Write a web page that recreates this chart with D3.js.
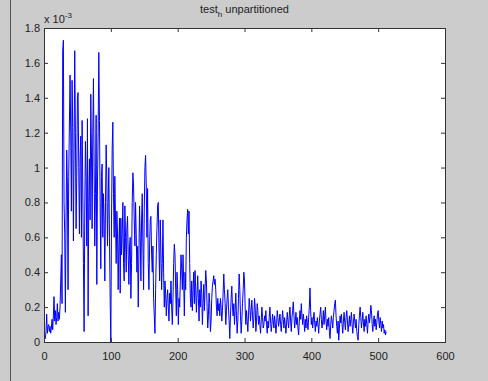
<!DOCTYPE html>
<html>
<head>
<meta charset="utf-8">
<script src="https://cdn.jsdelivr.net/npm/d3@7"></script>
<style>
  html, body { margin: 0; padding: 0; background: #cccccc; }
  svg { display: block; }
  .axisCustom text { font-family: "Liberation Sans", Arial, sans-serif; font-size: 11px; fill: #222; }
  .axisCustom line { stroke: #333; }
  .axisCustom path { display: none; }
</style>
</head>
<body>
<div id="chart"></div>
<script>
// data: h values in units of 1e-3, one per sample (sample 1..512)
var hValues = [
  0.03,0.02,0.06,0.16,0.05,0.09,0.10,0.06,0.09,0.05,0.08,0.13,0.07,0.15,0.26,0.12,
  0.18,0.10,0.14,0.22,0.12,0.17,0.13,0.20,0.35,0.50,0.22,1.67,1.73,0.80,0.62,0.17,
  0.70,1.10,0.90,0.30,0.95,1.25,1.53,1.20,0.75,1.50,1.23,0.58,1.10,1.67,1.20,0.65,
  0.95,1.40,1.43,1.00,0.62,1.05,1.18,0.60,1.27,0.90,0.45,0.06,0.75,1.15,0.95,0.55,
  1.28,0.15,0.80,1.05,0.70,1.42,1.10,0.65,1.20,1.51,1.00,0.55,0.85,1.30,0.33,0.90,
  1.20,1.66,1.27,0.80,0.42,0.95,1.02,0.60,0.85,0.70,0.35,0.80,1.13,0.93,0.55,0.80,
  1.00,0.60,0.24,0.00,0.70,1.10,1.26,0.85,0.60,0.95,0.70,0.45,0.75,0.62,0.30,0.55,
  0.71,0.28,0.71,0.50,0.62,0.80,0.45,0.35,0.78,0.60,0.40,0.65,0.72,0.50,0.33,0.55,
  0.60,0.25,0.45,0.80,0.97,0.90,0.70,0.55,0.80,0.62,0.40,0.55,0.20,0.50,0.78,0.60,
  0.35,0.70,0.85,0.55,0.30,0.75,1.00,1.07,0.90,0.60,0.88,0.45,0.30,0.55,0.70,0.72,
  0.50,0.40,0.55,0.25,0.15,0.05,0.30,0.50,0.65,0.78,0.80,0.55,0.35,0.70,0.50,0.30,
  0.45,0.70,0.40,0.20,0.35,0.28,0.15,0.25,0.30,0.20,0.12,0.28,0.22,0.35,0.20,0.10,
  0.25,0.45,0.56,0.50,0.30,0.15,0.40,0.30,0.10,0.25,0.20,0.35,0.50,0.42,0.30,0.50,
  0.35,0.15,0.40,0.30,0.60,0.70,0.76,0.62,0.75,0.45,0.25,0.20,0.35,0.18,0.30,0.40,
  0.22,0.41,0.30,0.17,0.28,0.38,0.25,0.12,0.30,0.20,0.35,0.28,0.10,0.22,0.33,0.18,
  0.30,0.41,0.35,0.20,0.08,0.15,0.28,0.22,0.06,0.12,0.25,0.32,0.35,0.38,0.33,0.36,
  0.30,0.20,0.15,0.25,0.18,0.22,0.15,0.25,0.20,0.12,0.18,0.28,0.39,0.30,0.22,0.10,
  0.18,0.25,0.30,0.20,0.12,0.02,0.15,0.25,0.32,0.20,0.15,0.22,0.10,0.18,0.28,0.15,
  0.05,0.12,0.25,0.39,0.30,0.15,0.05,0.12,0.22,0.30,0.40,0.35,0.20,0.10,0.18,0.12,
  0.06,0.15,0.25,0.20,0.12,0.18,0.24,0.15,0.08,0.14,0.25,0.20,0.06,0.12,0.22,0.18,
  0.10,0.15,0.10,0.05,0.12,0.20,0.14,0.08,0.10,0.15,0.12,0.18,0.10,0.05,0.12,0.08,
  0.14,0.20,0.12,0.06,0.10,0.16,0.12,0.08,0.15,0.11,0.05,0.10,0.18,0.14,0.09,0.12,
  0.16,0.10,0.06,0.12,0.18,0.13,0.08,0.14,0.10,0.05,0.11,0.17,0.12,0.08,0.15,0.20,
  0.12,0.06,0.14,0.18,0.23,0.15,0.08,0.12,0.17,0.10,0.14,0.08,0.04,0.12,0.18,0.13,
  0.22,0.15,0.10,0.16,0.12,0.06,0.13,0.08,0.15,0.11,0.07,0.14,0.20,0.31,0.18,0.10,
  0.14,0.08,0.13,0.17,0.11,0.06,0.12,0.09,0.14,0.10,0.05,0.12,0.16,0.20,0.13,0.08,
  0.12,0.18,0.10,0.15,0.20,0.12,0.07,0.13,0.09,0.14,0.06,0.02,0.10,0.15,0.12,0.08,
  0.14,0.18,0.22,0.24,0.15,0.09,0.05,0.12,0.01,0.08,0.15,0.11,0.16,0.10,0.05,0.12,
  0.17,0.11,0.07,0.14,0.18,0.12,0.06,0.10,0.15,0.09,0.13,0.17,0.10,0.05,0.11,0.16,
  0.12,0.08,0.13,0.06,0.03,0.01,0.10,0.15,0.20,0.14,0.08,0.12,0.17,0.11,0.06,0.13,
  0.09,0.15,0.10,0.05,0.12,0.16,0.11,0.15,0.21,0.18,0.10,0.06,0.12,0.15,0.09,0.13,
  0.07,0.11,0.16,0.18,0.12,0.08,0.14,0.10,0.06,0.12,0.08,0.10,0.05,0.07,0.04,0.06
];

// tick labels
var xTicks = [0, 100, 200, 300, 400, 500, 600];
var yTicks = [0, 0.2, 0.4, 0.6, 0.8, 1, 1.2, 1.4, 1.6, 1.8];

// size setup
var W = 488, H = 381;
var margins = {top: 28, right: 43, bottom: 39, left: 44};
var chartWidth  = W - margins.left - margins.right;
var chartHeight = H - margins.top - margins.bottom;

var svg = d3.select('#chart').append('svg')
    .attr('width', W)
    .attr('height', H);

// figure background and window edge
svg.append('rect').attr('width', W).attr('height', H).attr('fill', '#cccccc');
svg.append('line')
    .attr('x1', 10.5).attr('x2', 10.5).attr('y1', 0).attr('y2', H)
    .attr('stroke', '#555').attr('stroke-width', 1);

var cht = svg.append('g')
    .attr('transform', 'translate(' + margins.left + ',' + margins.top + ')');

// scales
var xScale = d3.scaleLinear().domain([0, 600]).range([0, chartWidth]);
var yScale = d3.scaleLinear().domain([0, 1.8]).range([chartHeight, 0]);

// axes background
cht.append('rect')
    .attr('width', chartWidth).attr('height', chartHeight)
    .attr('fill', '#ffffff');

// the data line
var line = d3.line()
    .x(function(d, i){ return xScale(i + 1); })
    .y(function(d){ return yScale(d); });

cht.append('path')
    .datum(hValues)
    .attr('d', line)
    .attr('fill', 'none')
    .attr('stroke', '#0000ff')
    .attr('stroke-width', 1);

// axes (ticks pointing inward, like matlab)
var fmt = function(d){ return d3.format('~g')(d); };

cht.append('g')
    .attr('class', 'axisCustom')
    .attr('transform', 'translate(0,' + chartHeight + ')')
    .call(d3.axisBottom(xScale).tickValues(xTicks).tickSizeInner(-4).tickSizeOuter(0).tickPadding(10).tickFormat(fmt));

cht.append('g')
    .attr('class', 'axisCustom')
    .call(d3.axisTop(xScale).tickValues(xTicks).tickSizeInner(-4).tickSizeOuter(0).tickFormat(''));

cht.append('g')
    .attr('class', 'axisCustom')
    .call(d3.axisLeft(yScale).tickValues(yTicks).tickSizeInner(-4).tickSizeOuter(0).tickPadding(4).tickFormat(fmt));

cht.append('g')
    .attr('class', 'axisCustom')
    .attr('transform', 'translate(' + chartWidth + ',0)')
    .call(d3.axisRight(yScale).tickValues(yTicks).tickSizeInner(-4).tickSizeOuter(0).tickFormat(''));

// axes box
cht.append('rect')
    .attr('x', 0.5).attr('y', 0.5)
    .attr('width', chartWidth).attr('height', chartHeight)
    .attr('fill', 'none')
    .attr('stroke', '#333')
    .attr('stroke-width', 1);

// exponent label
var expo = svg.append('text')
    .attr('x', margins.left)
    .attr('y', 23)
    .style('font-family', '"Liberation Sans", Arial, sans-serif')
    .style('font-size', '11px')
    .style('fill', '#222');
expo.append('tspan').text('x 10');
expo.append('tspan').attr('dy', -5).style('font-size', '8px').text('-3');

// title
var title = svg.append('text')
    .attr('x', margins.left + chartWidth / 2)
    .attr('y', 13)
    .attr('text-anchor', 'middle')
    .style('font-family', '"Liberation Sans", Arial, sans-serif')
    .style('font-size', '11px')
    .style('fill', '#222');
title.append('tspan').text('test');
title.append('tspan').attr('dy', 4).style('font-size', '8px').text('h');
title.append('tspan').attr('dy', -4).text(' unpartitioned');
</script>
</body>
</html>
